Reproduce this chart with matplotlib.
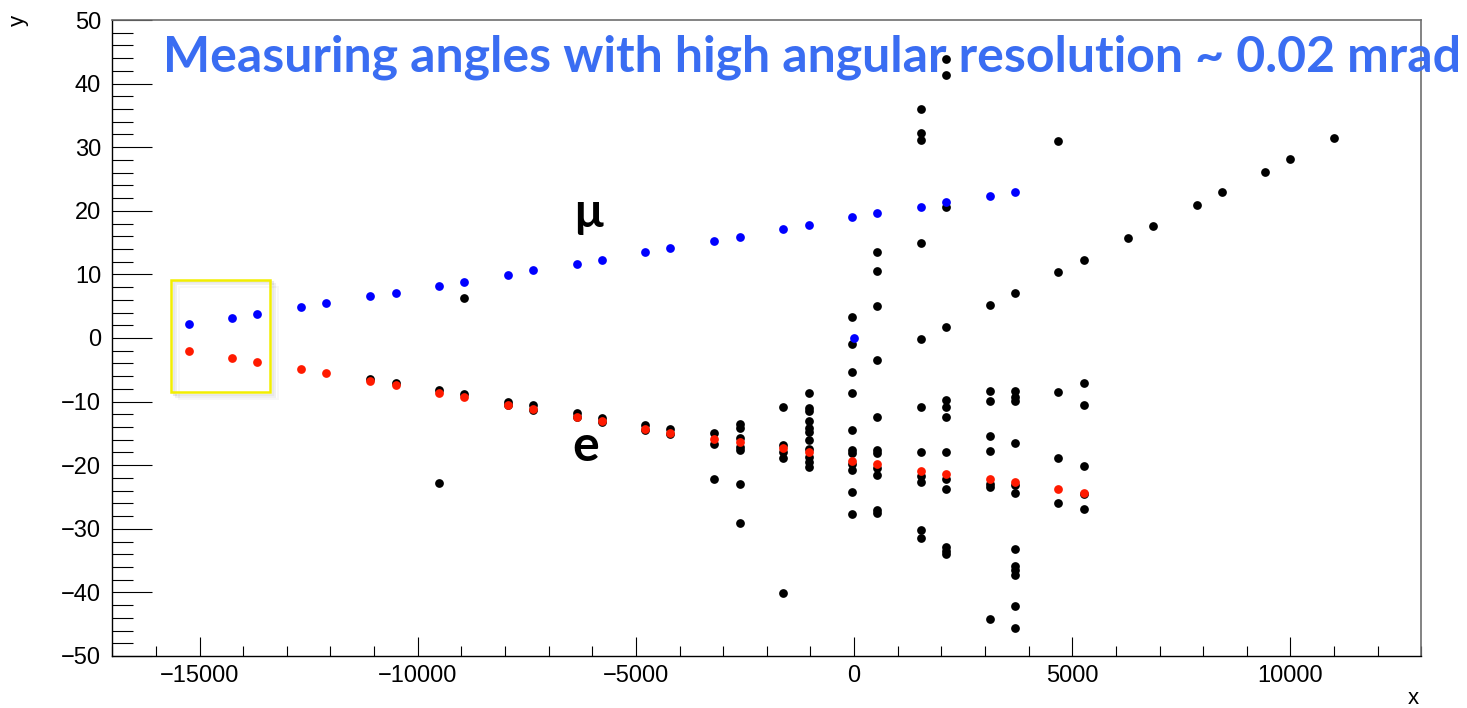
import matplotlib
matplotlib.use("Agg")
import matplotlib.pyplot as plt
from matplotlib.patches import Rectangle
from matplotlib.ticker import MultipleLocator

# ---------------- data ----------------
# muon (blue) hits
mu_x = [-15247, -14249, -13677, -12676, -12097, -11097, -10508, -9510, -8929,
        -7930, -7358, -6358, -5778, -4794, -4212, -3214, -2619, -1619, -1039,
        -46, 533, 1534, 2106, 3104, 3686, 0]
mu_y = [2.15, 3.14, 3.77, 4.87, 5.45, 6.56, 7.12, 8.18, 8.81,
        9.86, 10.64, 11.68, 12.30, 13.52, 14.15, 15.2, 15.93, 17.18, 17.77,
        18.98, 19.63, 20.64, 21.36, 22.33, 22.96, 0.0]

# electron (red) hits
e_x = [-15247, -14249, -13677, -12676, -12097, -11097, -10508, -9510, -8929,
       -7930, -7358, -6358, -5778, -4794, -4212, -3214, -2619, -1619, -1039,
       -46, 533, 1534, 2106, 3104, 3686, 4677, 5280]
e_y = [-2.04, -3.09, -3.72, -4.93, -5.55, -6.71, -7.34, -8.57, -9.23,
       -10.49, -11.16, -12.37, -13.1, -14.26, -14.98, -15.88, -16.3, -17.24, -17.98,
       -19.29, -19.86, -20.86, -21.44, -22.22, -22.69, -23.8, -24.3]

# other hits (black), grouped by station position
bk_stations = [-11097, -10508, -9510, -8929, -7930, -7358, -6358, -5778, -4794, -4212,
               -3214, -2619, -1619, -1039, -46, 533, 1534, 2106, 3104, 3686,
               4677, 5280, 6273, 6852, 7853, 8425, 9423, 9995, 10996]
bk_y = [
    [-6.5], [-7.1], [-8.18, -22.75], [6.24, -8.86], [-10.0, -10.6], [-10.53, -11.3],
    [-11.74, -12.5], [-12.53, -13.2], [-13.68, -14.4], [-14.36, -15.1],
    [-14.99, -16.67, -22.22],
    [-13.57, -14.1, -15.77, -17.09, -17.6, -23.0, -29.14],
    [-10.8, -16.82, -17.87, -18.92, -40.04],
    [-8.7, -11.06, -11.42, -13.0, -14.2, -14.73, -16.04, -17.5, -18.66, -19.45, -20.33],
    [3.3, -0.89, -5.4, -8.6, -14.5, -17.6, -18.1, -19.8, -20.75, -24.27, -27.62],
    [13.47, 10.53, 4.98, -3.51, -12.37, -17.61, -18.13, -20.5, -21.54, -27.04, -27.46],
    [36.03, 32.18, 31.2, 14.95, -0.2, -10.9, -17.87, -21.65, -22.64, -30.19, -31.5],
    [43.8, 41.43, 20.64, 1.78, -9.75, -10.9, -12.37, -17.87, -22.22, -23.69, -32.8, -33.44, -33.96],
    [5.14, -8.33, -9.9, -15.4, -17.72, -22.96, -23.48, -44.18],
    [7.12, -8.33, -9.22, -9.85, -16.56, -23.1, -24.3, -33.23, -35.85, -36.48, -37.26, -42.14, -45.55],
    [31.0, 10.45, -8.44, -18.92, -25.9],
    [12.28, -7.05, -10.56, -20.15, -24.5, -26.84],
    [15.65], [17.61], [20.96], [22.9], [26.15], [28.09], [31.45],
]

title_text = "Measuring angles with high angular resolution ~ 0.02 mrad"
box_x = (-15652, -13380)
box_y = (-8.54, 9.12)

# ---------------- figure ----------------
fig = plt.figure(figsize=(14.67, 7.08), dpi=100)
ax = fig.add_axes([0.07655, 0.07345, 0.96885 - 0.07655, 0.97175 - 0.07345])
tick_font = "Liberation Sans"

bx = [s for s, ys in zip(bk_stations, bk_y) for _ in ys]
by = [v for ys in bk_y for v in ys]
ms = 6.3
ax.plot(bx, by, 'o', color='black', markersize=ms, markeredgewidth=0, zorder=3)
ax.plot(e_x, e_y, 'o', color='#ff1a00', markersize=ms, markeredgewidth=0, zorder=4)
ax.plot(mu_x, mu_y, 'o', color='#0000ff', markersize=ms, markeredgewidth=0, zorder=5)

ax.set_xlim(-17000, 13000)
ax.set_ylim(-50, 50)
ax.xaxis.set_major_locator(MultipleLocator(5000))
ax.xaxis.set_minor_locator(MultipleLocator(1000))
ax.yaxis.set_major_locator(MultipleLocator(10))
ax.yaxis.set_minor_locator(MultipleLocator(2))

ax.tick_params(axis='y', which='major', direction='in', length=29, width=0.8, pad=8,
               right=False, labelsize=17)
ax.tick_params(axis='y', which='minor', direction='in', length=15, width=0.8, right=False)
ax.tick_params(axis='x', which='major', direction='in', length=14, width=0.8, pad=6.5,
               top=False, labelsize=17)
ax.tick_params(axis='x', which='minor', direction='in', length=7, width=0.8, top=False)
for lab in ax.get_xticklabels() + ax.get_yticklabels():
    lab.set_fontfamily(tick_font)

for side in ['left', 'bottom']:
    ax.spines[side].set_color('black')
    ax.spines[side].set_linewidth(1.0)
for side in ['top', 'right']:
    ax.spines[side].set_color('#6e6e6e')
    ax.spines[side].set_linewidth(1.2)

# axis titles (ROOT style)
fig.text(18 / 1467, 1 - 20 / 708, "y", rotation=90, fontsize=16, family=tick_font,
         ha='center', va='center')
fig.text(1413 / 1467, 1 - 699 / 708, "x", fontsize=16, family=tick_font,
         ha='center', va='center')

# yellow box with soft shadow
for i, a in enumerate([0.09, 0.06, 0.03]):
    off_x = 60 * (i + 1)
    off_y = 0.35 * (i + 1)
    sh = Rectangle((box_x[0] + off_x, box_y[0] - off_y), box_x[1] - box_x[0], box_y[1] - box_y[0],
                   fill=False, edgecolor='black', alpha=a, linewidth=1.5, zorder=1)
    ax.add_patch(sh)
ax.add_patch(Rectangle((box_x[0], box_y[0]), box_x[1] - box_x[0], box_y[1] - box_y[0],
                       fill=False, edgecolor='#f2ee00', linewidth=1.8, zorder=2))

# annotations
fig.text(163 / 1467, 1 - 71 / 708, title_text, color='#3a6df2', fontsize=36,
         fontweight='bold', family='Lato', ha='left', va='baseline', zorder=10)
ax.text(-6100, 19.6, "μ", fontsize=34, fontweight='bold', family='Lato', color='black',
        ha='center', va='center')
ax.text(-6150, -17.0, "e", fontsize=36, fontweight='bold', family='Lato', color='black',
        ha='center', va='center')

fig.savefig("out.png", dpi=100)
